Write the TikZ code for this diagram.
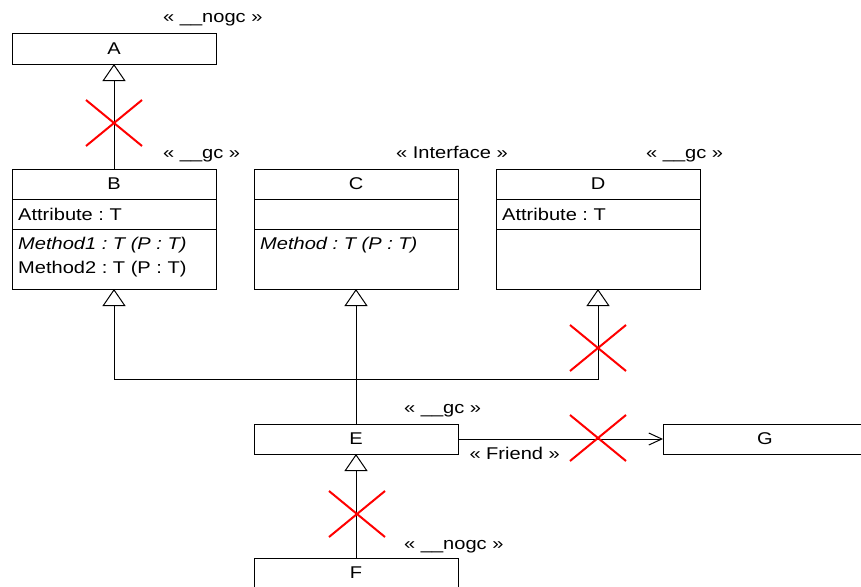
\documentclass[tikz,border=0pt]{standalone}
\usepackage{fontspec}
\setmainfont[FakeStretch=1.18]{Liberation Sans}
\usetikzlibrary{arrows.meta,positioning}
\frenchspacing
\tikzset{
  cls/.style={rectangle, draw, line width=1pt, minimum width=204pt, minimum height=30pt, inner sep=0pt, outer sep=0pt},
  ops/.style={cls, minimum height=60pt},
  member/.style={inner sep=0pt, align=left},
  stereo/.style={inner sep=0pt, anchor=base west},
  inherit/.style={line width=1pt, -{Triangle[open, length=17pt, width=23pt]}},
  friend/.style={line width=1pt, -{Straight Barb[length=13pt, width=12pt]}},
  cross/.pic={\draw[red, line width=2pt] (-28,-23) -- (28,23) (-28,23) -- (28,-23);}
}

\begin{document}
\begin{tikzpicture}[x=1pt, y=-1pt, font=\fontsize{17}{24}\selectfont]
\useasboundingbox (0,0) rectangle (861,586);
\clip (0,0) rectangle (861,586);

% classes
\node[cls] (A) at (114,49) {A};
\node[cls, below=105pt of A] (B) {B};
\node[cls, below=0pt of B] (Battr) {};
\node[ops, below=0pt of Battr] (Bops) {};
\node[cls, right=38pt of B] (C) {C};
\node[cls, below=0pt of C] (Cattr) {};
\node[ops, below=0pt of Cattr] (Cops) {};
\node[cls, right=38pt of C] (D) {D};
\node[cls, below=0pt of D] (Dattr) {};
\node[ops, below=0pt of Dattr] (Dops) {};
\node[cls, below=135pt of Cops] (E) {E};
\node[cls, below=104pt of E] (F) {F};
\node[cls, right=205pt of E] (G) {G};

% members
\node[member, anchor=west] (Battrtext) at ([xshift=6pt]Battr.west) {Attribute : T};
\node[member, anchor=north west] (Bopstext) at ([xshift=6pt,yshift=-8pt]Bops.north west) {\textit{Method1 : T (P : T)}\\Method2 : T (P : T)};
\node[member, anchor=north west] (Copstext) at ([xshift=6pt,yshift=-8pt]Cops.north west) {\textit{Method : T (P : T)}};
\node[member, anchor=west] (Dattrtext) at ([xshift=6pt]Dattr.west) {Attribute : T};

% stereotypes
\node[stereo] (Ast) at ([xshift=-53pt,yshift=11pt]A.north east) {« \_\_nogc »};
\node[stereo] (Bst) at ([xshift=-53pt,yshift=11pt]B.north east) {« \_\_gc »};
\node[stereo] (Cst) at ([xshift=-62pt,yshift=11pt]C.north east) {« Interface »};
\node[stereo] (Dst) at ([xshift=-54pt,yshift=11pt]D.north east) {« \_\_gc »};
\node[stereo] (Est) at ([xshift=-54pt,yshift=11pt]E.north east) {« \_\_gc »};
\node[stereo] (Fst) at ([xshift=-54pt,yshift=9pt]F.north east) {« \_\_nogc »};

% relations
\coordinate[above=45pt of E.north] (bus);
\draw[inherit] (B) -- (A);
\draw[inherit] (E) -- (Cops);
\draw[inherit] (bus) -| (Bops.south);
\draw[inherit] (bus) -| (Dops.south);
\draw[inherit] (F) -- (E);
\draw[friend] (E) -- (G) node[stereo, pos=0, xshift=11pt, yshift=-20pt] (friendlbl) {« Friend »};

% rejected links
\pic at (114,123) {cross};
\pic at (598,348) {cross};
\pic at (598,438) {cross};
\pic at (357,514) {cross};
\end{tikzpicture}
\end{document}
